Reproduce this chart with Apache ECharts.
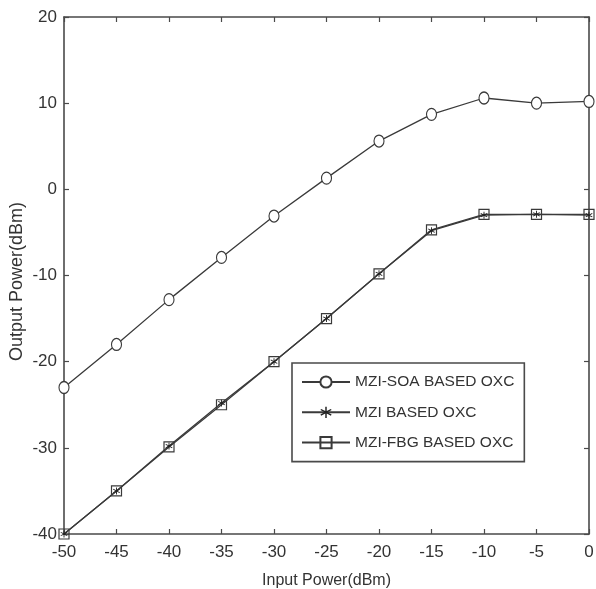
<!DOCTYPE html>
<html>
<head>
<meta charset="utf-8">
<script src="https://cdn.jsdelivr.net/npm/echarts@6/dist/echarts.min.js"></script>
<style>html,body{margin:0;padding:0;background:#fff;}#c{width:596px;height:589px;}</style>
</head>
<body>
<div id="c"></div>
<script>
var inputPower = [-50, -45, -40, -35, -30, -25, -20, -15, -10, -5, 0];
var soaValues = [-23, -18, -12.8, -7.9, -3.1, 1.3, 5.6, 8.7, 10.6, 10.0, 10.2];
var mziValues = [-40, -35, -29.8, -24.8, -20, -15, -9.8, -4.8, -3, -2.9, -3];
var fbgValues = [-40, -35, -29.9, -25, -20, -15, -9.8, -4.7, -2.9, -2.9, -2.9];
var seriesNames = ['MZI-SOA BASED OXC', 'MZI BASED OXC', 'MZI-FBG BASED OXC'];
var xTicks = { min: -50, max: 0, interval: 5 };
var yTicks = { min: -40, max: 20, interval: 10 };

function pairs(vals) { return inputPower.map(function (x, i) { return [x, vals[i]]; }); }

var FONT = '"Liberation Sans", Arial, sans-serif';
var axisColor = '#4a4a4a';
var lineColor = '#3a3a3a';
var asterisk = 'path://M4.4,0h1.2v3.9l3.4,-1.95l0.6,1.04l-3.4,1.96l3.4,1.96l-0.6,1.04l-3.4,-1.95v3.9h-1.2v-3.9l-3.4,1.95l-0.6,-1.04l3.4,-1.96l-3.4,-1.96l0.6,-1.04l3.4,1.95z';

function baseAxis(extra) {
  var a = {
    type: 'value',
    axisLine: { show: true, onZero: false, lineStyle: { color: axisColor, width: 1.6 } },
    axisTick: { show: true, inside: true, length: 5, lineStyle: { color: axisColor, width: 1.2 } },
    splitLine: { show: false },
    axisLabel: { color: '#333', fontFamily: FONT, fontSize: 17 }
  };
  for (var k in extra) a[k] = extra[k];
  return a;
}

var chart = echarts.init(document.getElementById('c'), null, { renderer: 'canvas' });
chart.setOption({
  animation: false,
  backgroundColor: '#fff',
  grid: { left: 64, right: 7, top: 17, bottom: 55, containLabel: false, outerBoundsMode: 'none' },
  xAxis: [
    baseAxis({ position: 'bottom', min: xTicks.min, max: xTicks.max, interval: xTicks.interval,
      name: 'Input Power(dBm)', nameLocation: 'middle', nameGap: 39, nameMoveOverlap: false,
      nameTextStyle: { color: '#333', fontFamily: FONT, fontSize: 16 },
      axisLabel: { color: '#333', fontFamily: FONT, fontSize: 17, margin: 10 } }),
    baseAxis({ position: 'top', min: xTicks.min, max: xTicks.max, interval: xTicks.interval,
      axisLabel: { show: false } })
  ],
  yAxis: [
    baseAxis({ position: 'left', min: yTicks.min, max: yTicks.max, interval: yTicks.interval,
      name: 'Output Power(dBm)', nameLocation: 'middle', nameGap: 38, nameRotate: 90, nameMoveOverlap: false,
      nameTextStyle: { color: '#333', fontFamily: FONT, fontSize: 18, padding: [0, 12, 0, 0] },
      axisLabel: { color: '#333', fontFamily: FONT, fontSize: 17, margin: 7 } }),
    baseAxis({ position: 'right', min: yTicks.min, max: yTicks.max, interval: yTicks.interval,
      axisLabel: { show: false } })
  ],
  legend: {
    orient: 'vertical',
    left: 292, top: 363,
    padding: [11, 10, 11, 9],
    itemGap: 14.3,
    itemWidth: 48, itemHeight: 14,
    backgroundColor: '#fff',
    borderColor: axisColor, borderWidth: 1.6,
    textStyle: { color: '#333', fontFamily: FONT, fontSize: 15.5, lineHeight: 14 },
    data: seriesNames
  },
  series: [
    { name: seriesNames[0], type: 'line', data: pairs(soaValues), xAxisIndex: 0, yAxisIndex: 0,
      symbol: 'circle', symbolSize: [10, 12], showAllSymbol: true,
      lineStyle: { color: lineColor, width: 1.3 },
      itemStyle: { color: '#fff', borderColor: lineColor, borderWidth: 1.2 } },
    { name: seriesNames[1], type: 'line', data: pairs(mziValues), xAxisIndex: 0, yAxisIndex: 0,
      symbol: asterisk, symbolSize: 7, showAllSymbol: true,
      lineStyle: { color: lineColor, width: 1.3 },
      itemStyle: { color: '#222', borderWidth: 0 } },
    { name: seriesNames[2], type: 'line', data: pairs(fbgValues), xAxisIndex: 0, yAxisIndex: 0,
      symbol: 'rect', symbolSize: 10, showAllSymbol: true,
      lineStyle: { color: lineColor, width: 1.3 },
      itemStyle: { color: 'rgba(255,255,255,0)', borderColor: lineColor, borderWidth: 1.2 } }
  ]
});
</script>
</body>
</html>
